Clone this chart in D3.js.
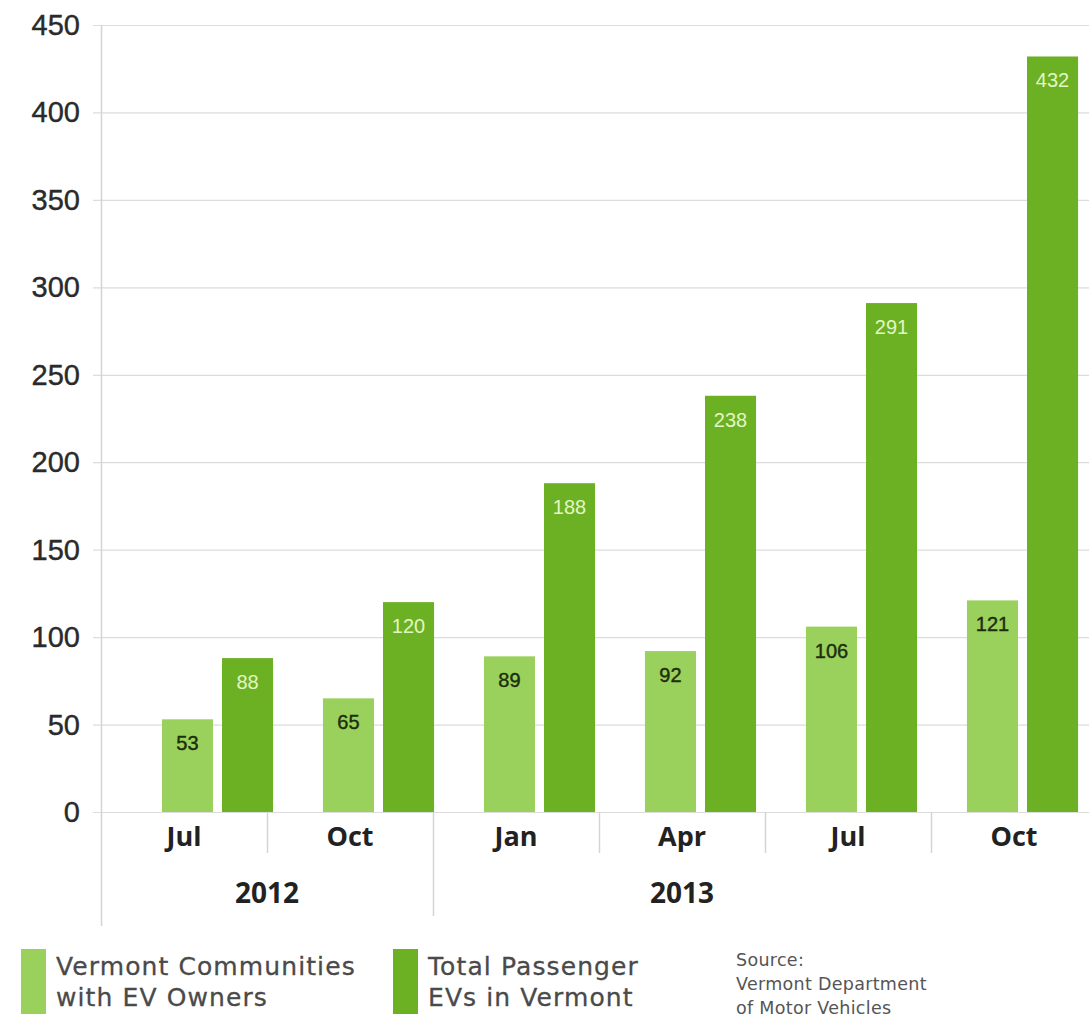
<!DOCTYPE html>
<html>
<head>
<meta charset="utf-8">
<script src="https://cdn.jsdelivr.net/npm/d3@7"></script>
<style>
  body { margin: 0; background: #fff; }
  svg { display: block; }
</style>
</head>
<body>
<div class="svg-container"></div>
<script>
// quarters shown on the chart
var periods = ["2012-07", "2012-10", "2013-01", "2013-04", "2013-07", "2013-10"];
var monthLabels = ["Jul", "Oct", "Jan", "Apr", "Jul", "Oct"];
var yearLabels = ["2012", "2012", "2013", "2013", "2013", "2013"];

var communities = [53, 65, 89, 92, 106, 121];
var totalEVs = [88, 120, 188, 238, 291, 432];

var seriesNames = ["Vermont Communities with EV Owners", "Total Passenger EVs in Vermont"];
var yTicks = [0, 50, 100, 150, 200, 250, 300, 350, 400, 450];
var sourceLines = ["Source:", "Vermont Department", "of Motor Vehicles"];

var width = 1089, height = 1020;
var lightGreen = "#9ad05c", darkGreen = "#6cb023";

var svg = d3.select(".svg-container").append("svg")
  .attr("width", width)
  .attr("height", height);

var y = d3.scaleLinear().domain([0, 450]).range([812, 25]);

// bars sit on their own band scale, labels/dividers on another (as in the original)
var xBars = d3.scaleBand().domain(periods).range([137, 1103])
  .paddingInner(0.31).paddingOuter(0.155);
var xSeries = d3.scaleBand().domain([0, 1]).range([0, xBars.bandwidth()])
  .paddingInner(0.15);
var xLabels = d3.scaleBand().domain(periods).range([101, 1097]).padding(0);

// gridlines
svg.append("g").attr("id", "g_grid").selectAll("line").data(yTicks).enter().append("line")
  .attr("x1", 93).attr("x2", width)
  .attr("y1", function(d){ return y(d) + 0.5; })
  .attr("y2", function(d){ return y(d) + 0.5; })
  .attr("stroke", "#dcdcdc").attr("stroke-width", 1.2);

// y axis labels
svg.append("g").attr("id", "g_yticks").selectAll("text").data(yTicks).enter().append("text")
  .attr("x", 80)
  .attr("y", function(d){ return y(d) + 10; })
  .attr("text-anchor", "end")
  .style("font-family", "'Liberation Sans', Arial, sans-serif")
  .style("font-size", "29px")
  .style("fill", "#2a2a2a")
  .style("stroke", "#2a2a2a").style("stroke-width", 0.4)
  .text(function(d){ return d; });

// vertical axis line
svg.append("line")
  .attr("x1", xLabels.range()[0] + 0.5).attr("x2", xLabels.range()[0] + 0.5)
  .attr("y1", y(450)).attr("y2", 926)
  .attr("stroke", "#d4d4d4").attr("stroke-width", 1.5);

// category dividers: short within a year, long between years
var dividers = periods.slice(1).map(function(p, i){
  return {id: p, yearBreak: yearLabels[i + 1] != yearLabels[i]};
});
svg.append("g").attr("id", "g_dividers").selectAll("line").data(dividers).enter().append("line")
  .attr("x1", function(d){ return xLabels(d.id) + 0.5; })
  .attr("x2", function(d){ return xLabels(d.id) + 0.5; })
  .attr("y1", y(0))
  .attr("y2", function(d){ return d.yearBreak ? 916 : 853; })
  .attr("stroke", "#d4d4d4").attr("stroke-width", 1.5);

// bars
var rows = periods.map(function(p, i){
  return {id: p, values: [communities[i], totalEVs[i]]};
});
var groups = svg.append("g").attr("id", "g_bars").selectAll("g").data(rows).enter().append("g")
  .attr("transform", function(d){ return "translate(" + xBars(d.id) + ",0)"; });

groups.selectAll("rect").data(function(d){ return d.values; }).enter().append("rect")
  .attr("x", function(d, i){ return xSeries(i); })
  .attr("y", function(d){ return y(d); })
  .attr("width", xSeries.bandwidth())
  .attr("height", function(d){ return y(0) - y(d); })
  .attr("fill", function(d, i){ return i == 0 ? lightGreen : darkGreen; });

groups.selectAll("text").data(function(d){ return d.values; }).enter().append("text")
  .attr("x", function(d, i){ return xSeries(i) + xSeries.bandwidth() / 2; })
  .attr("y", function(d){ return y(d) + 31; })
  .attr("text-anchor", "middle")
  .style("font-family", "'Liberation Sans', Arial, sans-serif")
  .style("font-size", "20px")
  .style("fill", function(d, i){ return i == 0 ? "#1c2e0c" : "#e2f7c4"; })
  .style("stroke", function(d, i){ return i == 0 ? "#1c2e0c" : "none"; })
  .style("stroke-width", 0.4)
  .text(function(d){ return d; });

// month labels
svg.append("g").attr("id", "g_months").selectAll("text").data(periods).enter().append("text")
  .attr("x", function(d){ return xLabels(d) + xLabels.bandwidth() / 2; })
  .attr("y", 846)
  .attr("text-anchor", "middle")
  .style("font-family", "'Open Sans', sans-serif")
  .style("font-weight", "bold")
  .style("font-size", "27px")
  .style("fill", "#222")
  .text(function(d, i){ return monthLabels[i]; });

// year labels, centered on the visible part of their span
var years = [];
yearLabels.forEach(function(yr, i){
  var last = years[years.length - 1];
  if (!last || last.year != yr) years.push({year: yr, first: periods[i], last: periods[i]});
  else last.last = periods[i];
});
var lastDivider = xLabels(periods[periods.length - 1]);
svg.append("g").attr("id", "g_years").selectAll("text").data(years).enter().append("text")
  .attr("x", function(d){
    var start = xLabels(d.first);
    var end = Math.min(xLabels(d.last) + xLabels.bandwidth(), lastDivider);
    if (end <= start) end = xLabels(d.last) + xLabels.bandwidth();
    return (start + end) / 2;
  })
  .attr("y", 903)
  .attr("text-anchor", "middle")
  .style("font-family", "'Open Sans', sans-serif")
  .style("font-weight", "bold")
  .style("font-size", "28px")
  .style("fill", "#222")
  .text(function(d){ return d.year; });

// legend
var legendX = [21, 393];
var legend = svg.append("g").attr("id", "g_legend").selectAll("g").data(seriesNames).enter().append("g")
  .attr("transform", function(d, i){ return "translate(" + legendX[i] + ",949)"; });
legend.append("rect")
  .attr("width", 25).attr("height", 65)
  .attr("fill", function(d, i){ return i == 0 ? lightGreen : darkGreen; });
var legendLines = [["Vermont Communities", "with EV Owners"], ["Total Passenger", "EVs in Vermont"]];
legend.selectAll("text").data(function(d, i){ return legendLines[i]; }).enter().append("text")
  .attr("x", 35)
  .attr("y", function(d, j){ return 26 + j * 31; })
  .style("font-family", "'DejaVu Sans', sans-serif")
  .style("font-size", "25px")
  .style("letter-spacing", "1.1px")
  .style("fill", "#4a4a4a")
  .style("stroke", "#4a4a4a").style("stroke-width", 0.3)
  .text(function(d){ return d; });

// source note
svg.append("g").attr("id", "g_source").selectAll("text").data(sourceLines).enter().append("text")
  .attr("x", 736)
  .attr("y", function(d, i){ return 966 + i * 24; })
  .style("font-family", "'DejaVu Sans', sans-serif")
  .style("font-size", "17.5px")
  .style("letter-spacing", "0.3px")
  .style("fill", "#555")
  .text(function(d){ return d; });
</script>
</body>
</html>
